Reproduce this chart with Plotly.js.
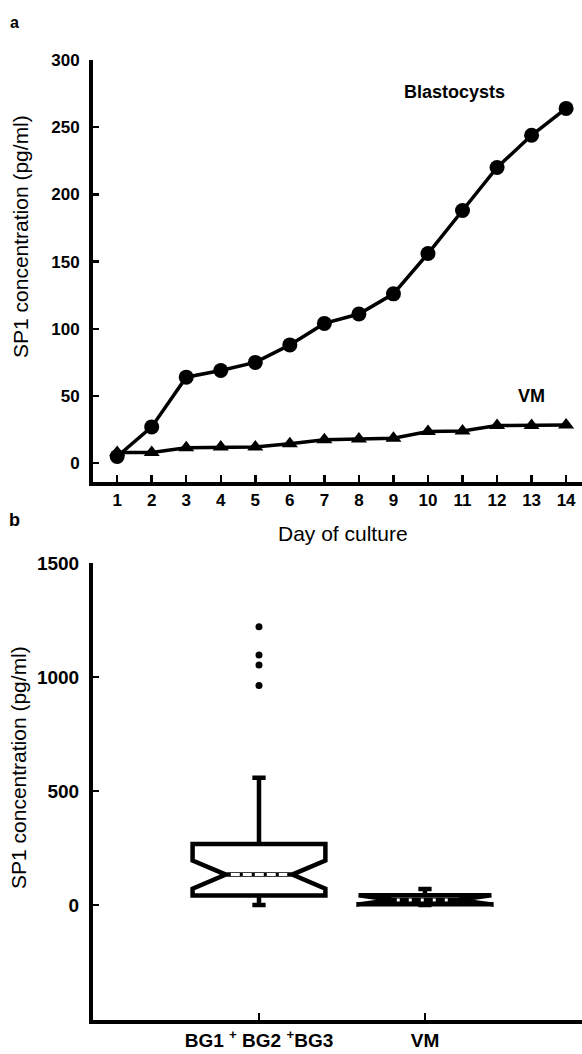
<!DOCTYPE html>
<html><head><meta charset="utf-8">
<script src="https://cdn.plot.ly/plotly-3.0.1.min.js"></script>
<style>html,body{margin:0;padding:0;background:#fff;}#chart{width:582px;height:1054px;}</style>
</head><body><div id="chart"></div>
<script>
// ---------- Panel a: SP1 over days of culture ----------
const days = [1,2,3,4,5,6,7,8,9,10,11,12,13,14];
const blastocysts = [5,27,64,69,75,88,104,111,126,156,188,220,244,264];
const vmDaily = [8,8,11.5,12,12,14.5,17.5,18,18.5,23.5,24,28,28,28.5];
const ticksA = [0,50,100,150,200,250,300];

// ---------- Panel b: box summary ----------
const groups = ['BG1 <sup>+</sup> BG2 <sup>+</sup>BG3', 'VM'];
const q1 = [41, 3];
const median = [133, 22];
const q3 = [267, 42];
const lowerFence = [0, 0];
const upperFence = [558, 70];
const notchSpan = [62, 20];
const outliersBG = [1220, 1096, 1052, 963];
const ticksB = [0,500,1000,1500];

const FONT = '"Liberation Sans Narrow","Liberation Sans",Arial,sans-serif';
const FONT_T = '"Liberation Sans",Arial,sans-serif';
const BOXW = 0.8, NOTCHW = 0.25;
const groupPos = groups.map((g,i)=>i);

// layout helpers (pixel -> paper)
const W=582,H=1054,ML=93,MR=0,MT=60,MB=34;
const px = x => (x-ML)/(W-ML-MR);
const py = y => (H-MB-y)/(H-MT-MB);

const traces = [];
traces.push({type:'box', xaxis:'x2', yaxis:'y2', x:groupPos, q1:q1, median:median, q3:q3,
  lowerfence:lowerFence, upperfence:upperFence, notched:true, notchspan:notchSpan,
  notchwidth:NOTCHW, width:BOXW, whiskerwidth:0.1, boxpoints:false,
  line:{color:'black', width:4.5}, fillcolor:'white', showlegend:false, hoverinfo:'skip'});
const dashes = ['9px,3px','3px,9px'];
groupPos.forEach((p,i)=>{
  const h = BOXW*(0.5-NOTCHW)*0.85;
  traces.push({type:'scatter', mode:'lines', xaxis:'x2', yaxis:'y2',
    x:[p-h,p+h], y:[median[i],median[i]],
    line:{color:'white', width:3, dash:dashes[i]}, showlegend:false, hoverinfo:'skip'});
});
traces.push({type:'scatter', mode:'markers', xaxis:'x2', yaxis:'y2',
  x:outliersBG.map(()=>groupPos[0]), y:outliersBG,
  marker:{color:'black', size:7}, showlegend:false, hoverinfo:'skip'});

traces.push({type:'scatter', mode:'lines+markers', x:days, y:vmDaily, xaxis:'x', yaxis:'y',
  line:{color:'black', width:3.5}, marker:{symbol:'triangle-up', size:14, color:'black'},
  showlegend:false, hoverinfo:'skip'});
traces.push({type:'scatter', mode:'lines+markers', x:days, y:blastocysts, xaxis:'x', yaxis:'y',
  line:{color:'black', width:3.5}, marker:{symbol:'circle', size:15, color:'black'},
  showlegend:false, hoverinfo:'skip'});

const axBase = {showline:true, linecolor:'black', linewidth:4, showgrid:false, zeroline:false,
  ticks:'inside', tickcolor:'black', tickwidth:2.5, ticklen:6};

const ann = (x,y,text,font,extra) => Object.assign({xref:'paper', yref:'paper', x:px(x), y:py(y), text:text,
  showarrow:false, xanchor:'center', yanchor:'middle', font:font}, extra||{});

const layout = {
  width:W, height:H, margin:{l:ML, r:MR, t:MT, b:MB}, paper_bgcolor:'white', plot_bgcolor:'white',
  showlegend:false,
  xaxis:Object.assign({}, axBase, {domain:[0,1], anchor:'y', range:[0.3,14.46], tickvals:days, ticklen:7,
    tickfont:{family:FONT, size:17, weight:'bold', color:'black'}}),
  yaxis:Object.assign({}, axBase, {domain:[py(482),1], anchor:'x', range:[-14,300], tickvals:ticksA,
    ticklabelstandoff:6, tickfont:{family:FONT, size:17, weight:'bold', color:'black'}}),
  xaxis2:Object.assign({}, axBase, {anchor:'y2', range:[-1,1.946], tickvals:groupPos, ticktext:groups, ticklen:7,
    tickfont:{family:FONT, size:19, weight:'bold', color:'black'}}),
  yaxis2:Object.assign({}, axBase, {domain:[0,py(563)], anchor:'x2', range:[-505,1500], tickvals:ticksB,
    ticklabelstandoff:6, tickfont:{family:FONT, size:19, weight:'bold', color:'black'}}),
  annotations:[
    ann(14, 22, 'a', {family:FONT_T,size:16,weight:'bold',color:'black'}),
    ann(14, 520, 'b', {family:FONT_T,size:18,weight:'bold',color:'black'}),
    ann(21, 237, 'SP1 concentration (pg/ml)', {family:FONT_T,size:21,color:'black'}, {textangle:-90}),
    ann(18, 768, 'SP1 concentration (pg/ml)', {family:FONT_T,size:21,color:'black'}, {textangle:-90}),
    ann(343, 533, 'Day of culture', {family:FONT_T,size:21,color:'black'}),
    {xref:'x', yref:'y', x:10.76, y:276, text:'Blastocysts', showarrow:false, xanchor:'center', yanchor:'middle',
      font:{family:FONT,size:18,weight:'bold',color:'black'}},
    {xref:'x', yref:'y', x:13.0, y:50, text:'VM', showarrow:false, xanchor:'center', yanchor:'middle',
      font:{family:FONT,size:18,weight:'bold',color:'black'}}
  ]
};
Plotly.newPlot('chart', traces, layout, {displayModeBar:false, staticPlot:true});
</script></body></html>
